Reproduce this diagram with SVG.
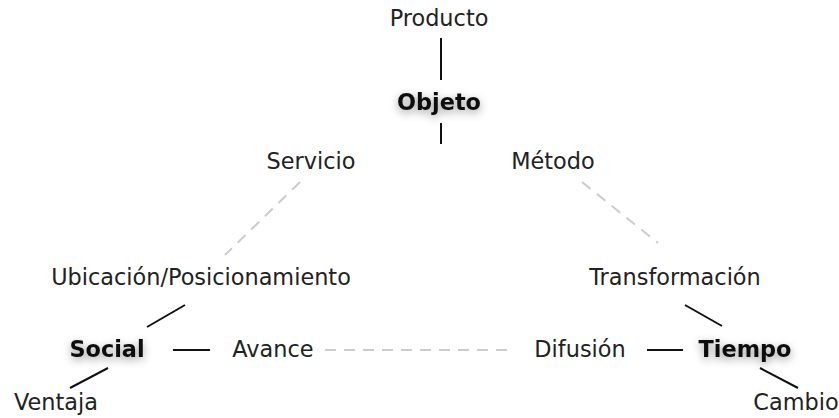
<svg xmlns="http://www.w3.org/2000/svg" width="839" height="418" viewBox="0 0 839 418">
<defs>
<filter id="sh" x="-30%" y="-60%" width="160%" height="220%">
<feDropShadow dx="0" dy="3" stdDeviation="4" flood-color="#000" flood-opacity="0.4"/>
</filter>
<style>
text{font-family:"DejaVu Sans","Verdana",sans-serif;font-size:22.4px;fill:#222;text-anchor:middle}
.b{font-weight:bold;fill:#111;filter:url(#sh)}
.s{stroke:#111;stroke-width:2;fill:none}
.d{stroke:#ccc;stroke-width:2;fill:none;stroke-dasharray:11 8}
</style>
</defs>
<rect width="839" height="418" fill="#fff"/>
<g id="connectors">
<line class="s" x1="441" y1="38" x2="441" y2="80"/>
<line class="s" x1="441" y1="123" x2="441" y2="144"/>
<line class="d" x1="300" y1="182" x2="225" y2="255"/>
<line class="d" x1="582" y1="182" x2="658" y2="243"/>
<line class="s" x1="185" y1="305" x2="147" y2="327"/>
<line class="s" x1="685" y1="305" x2="722" y2="326"/>
<line class="s" x1="173" y1="350" x2="210" y2="350"/>
<line class="d" x1="325" y1="350" x2="512" y2="350"/>
<line class="s" x1="647" y1="350" x2="683" y2="350"/>
<line class="s" x1="108" y1="368" x2="70" y2="388"/>
<line class="s" x1="760" y1="368" x2="798" y2="388"/>
</g>
<g id="producto"><text x="439" y="26">Producto</text></g>
<g id="objeto"><text class="b" x="439" y="110">Objeto</text></g>
<g id="servicio"><text x="311" y="169">Servicio</text></g>
<g id="metodo"><text x="553" y="169">Método</text></g>
<g id="ubicacion"><text x="201" y="285">Ubicación/Posicionamiento</text></g>
<g id="transformacion"><text x="675" y="285">Transformación</text></g>
<g id="social"><text class="b" x="107" y="357">Social</text></g>
<g id="avance"><text x="273" y="357">Avance</text></g>
<g id="difusion"><text x="580" y="357">Difusión</text></g>
<g id="tiempo"><text class="b" x="745" y="357">Tiempo</text></g>
<g id="ventaja"><text x="56" y="410">Ventaja</text></g>
<g id="cambio"><text x="796" y="410">Cambio</text></g>
</svg>
